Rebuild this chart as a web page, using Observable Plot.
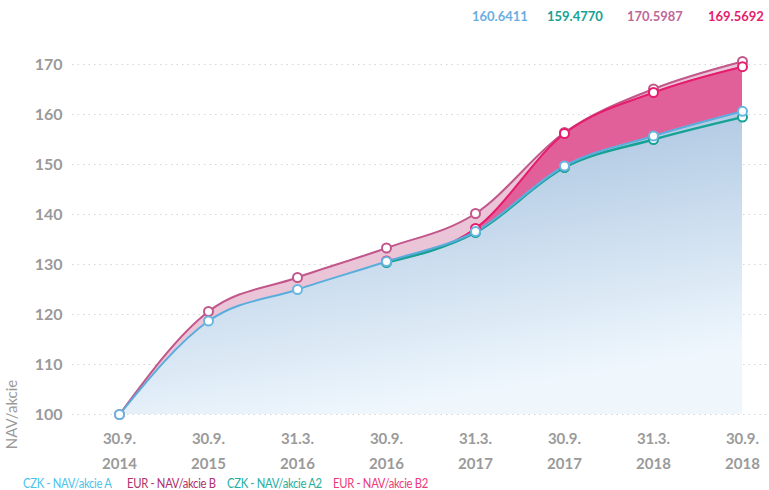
<!DOCTYPE html>
<html><head><meta charset="utf-8">
<script src="https://cdn.jsdelivr.net/npm/d3@7"></script>
<script src="https://cdn.jsdelivr.net/npm/@observablehq/plot@0.6"></script>
<style>
body{margin:0;background:#fff;font-family:Lato,"Noto Sans",sans-serif;}
#wrap{position:relative;width:769px;height:490px;overflow:hidden}
#topvals{position:relative;height:26px}
#topvals span{position:absolute;top:8px;font-size:13px;font-weight:700;line-height:16px;white-space:nowrap}
#legend{position:relative;height:14px}
#legend span{position:absolute;top:0px;font-size:12.5px;letter-spacing:-0.35px;line-height:16px;white-space:nowrap;transform:scaleX(0.9);transform-origin:0 50%}
svg{display:block}
</style></head><body>
<div id="wrap"><div id="topvals"></div><div id="chart"></div><div id="legend"></div></div>
<script>
// ---- data ----
const dates = ["30.9.2014","30.9.2015","31.3.2016","30.9.2016","31.3.2017","30.9.2017","31.3.2018","30.9.2018"];
const navA  = [100, 118.7, 125.0, 130.6, 136.6, 149.7, 155.7, 160.6411];
const navB  = [100, 120.6, 127.4, 133.3, 140.2, 156.4, 165.1, 170.5987];
const navA2 = [null, null, null, 130.4, 136.4, 149.4, 155.0, 159.4770];
const navB2 = [null, null, null, 130.7, 137.2, 156.2, 164.4, 169.5692];
const seriesNames = ["CZK - NAV/akcie A", "EUR - NAV/akcie B", "CZK - NAV/akcie A2", "EUR - NAV/akcie B2"];
const lastValues = ["160.6411", "159.4770", "170.5987", "169.5692"];
const yTicks = [100, 110, 120, 130, 140, 150, 160, 170];

// ---- styles ----
const colA = "#5aacdc", colB = "#c2578b", colA2 = "#16a295", colB2 = "#e61c6c";
const rows = (vals) => dates.map((d, i) => ({date: d, value: vals[i]})).filter(r => r.value != null);
const A = rows(navA), B = rows(navB), A2 = rows(navA2), B2 = rows(navB2);
const curve = "monotone-x";

const chart = Plot.plot({
  width: 769,
  height: 450,
  marginLeft: 72,
  marginRight: 0,
  marginTop: 38,
  marginBottom: 62,
  x: {type: "point", domain: dates, range: [116, 745], padding: 0},
  y: {domain: [100, 170]},
  style: {fontFamily: "Lato, 'Noto Sans', sans-serif", background: "white"},
  marks: [
    Plot.ruleY(yTicks, {stroke: "#d6d6d6", strokeDasharray: "1.5,4"}),
    Plot.areaY(B,  {x: "date", y1: 100, y2: "value", fill: "#eac4d7", curve}),
    Plot.areaY(B2, {x: "date", y1: 100, y2: "value", fill: "#e2609a", curve}),
    Plot.areaY(A2, {x: "date", y1: 100, y2: "value", fill: "url(#gA)", curve}),
    Plot.areaY(A,  {x: "date", y1: 100, y2: "value", fill: "url(#gA)", curve}),
    Plot.lineY(B,  {x: "date", y: "value", stroke: colB, strokeWidth: 2, curve}),
    Plot.lineY(B2, {x: "date", y: "value", stroke: colB2, strokeWidth: 2, curve}),
    Plot.lineY(A2, {x: "date", y: "value", stroke: colA2, strokeWidth: 2.5, curve}),
    Plot.lineY(A,  {x: "date", y: "value", stroke: colA, strokeWidth: 2, curve}),
    Plot.dot(B,  {x: "date", y: "value", r: 4.5, fill: "white", stroke: colB, strokeWidth: 2}),
    Plot.dot(B2, {x: "date", y: "value", r: 4.5, fill: "white", stroke: colB2, strokeWidth: 2}),
    Plot.dot(A2, {x: "date", y: "value", r: 4.5, fill: "white", stroke: colA2, strokeWidth: 2}),
    Plot.dot(A,  {x: "date", y: "value", r: 4.5, fill: "white", stroke: "#6ab6e2", strokeWidth: 2}),
    Plot.axisY({ticks: yTicks, tickSize: 0, tickPadding: 10, fontSize: 16, fontWeight: "bold", color: "#9a9a9a", label: null}),
    Plot.axisX({tickSize: 0, tickPadding: 12, fontSize: 15, fontWeight: "bold", color: "#9a9a9a", label: null, lineHeight: 1.65,
      tickFormat: d => d.slice(0, -4) + "\n" + d.slice(-4)}),
    Plot.text(["NAV/akcie"], {text: d => d, frameAnchor: "bottom-left", rotate: -90, textAnchor: "middle", dx: -56, fontSize: 15, fill: "#9a9a9a"})
  ]
});

// gradient for the A areas
const ys = chart.scale("y");
const ns = "http://www.w3.org/2000/svg";
const defs = document.createElementNS(ns, "defs");
defs.innerHTML = `<linearGradient id="gA" gradientUnits="userSpaceOnUse" x1="300" y1="${ys.apply(170)}" x2="360" y2="${ys.apply(100)}">
  <stop offset="0" stop-color="#93b4d7"/><stop offset="1" stop-color="#eff7fd"/></linearGradient>`;
chart.insertBefore(defs, chart.firstChild);
document.getElementById("chart").appendChild(chart);

// top values
const topColors = ["#6aaee0", "#16a295", "#c0679a", "#e61c6c"];
const topLeft = [472, 547, 627, 708];
const topBox = document.getElementById("topvals");
lastValues.forEach((v, i) => {
  const s = document.createElement("span");
  s.textContent = v; s.style.color = topColors[i]; s.style.left = topLeft[i] + "px";
  topBox.appendChild(s);
});

// legend
const legColors = ["#4cc3ea", "#b0306a", "#27ae9f", "#ec3a7a"];
const legLeft = [23, 127, 227, 333];
const leg = document.getElementById("legend");
seriesNames.forEach((n, i) => {
  const s = document.createElement("span");
  s.textContent = n; s.style.color = legColors[i]; s.style.left = legLeft[i] + "px";
  leg.appendChild(s);
});
</script>
</body></html>
